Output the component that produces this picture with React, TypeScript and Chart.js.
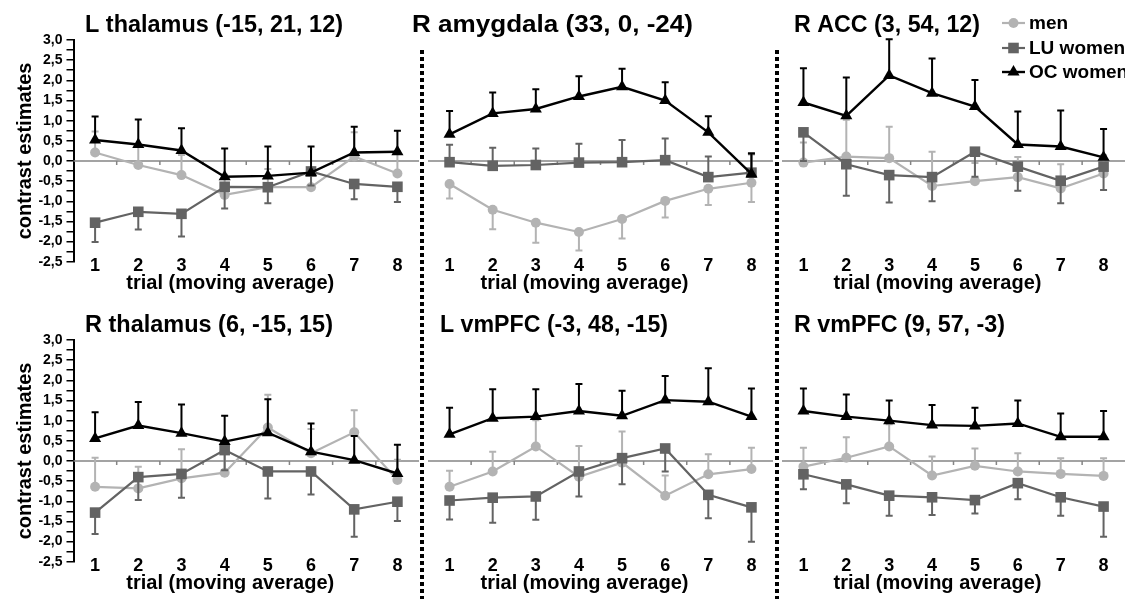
import React, { useEffect, useRef } from 'react';
import { Chart, registerables } from 'chart.js';

Chart.register(...registerables);

// ---------------- data ----------------
const trials = ['1', '2', '3', '4', '5', '6', '7', '8'];
const seriesLabels = ['men', 'LU women', 'OC women'];
const panelTitles = [
  'L thalamus (-15, 21, 12)',
  'R amygdala (33, 0, -24)',
  'R ACC (3, 54, 12)',
  'R thalamus (6, -15, 15)',
  'L vmPFC (-3, 48, -15)',
  'R vmPFC (9, 57, -3)',
];
const xAxisTitle = 'trial (moving average)';
const yAxisTitle = 'contrast estimates';
const yMin = -2.5;
const yMax = 3.0;
const yMinorStep = 0.25;
const yLabelStep = 0.5;

// signed error bars: positive = drawn upward, negative = drawn downward
// L thalamus
const lThalMen = [0.21, -0.1, -0.35, -0.84, -0.65, -0.65, 0.11, -0.31];
const lThalMenErr = [0.52, 0.45, 0.5, 0.5, 0.45, 0.45, 0.6, 0.55];
const lThalLU = [-1.53, -1.26, -1.31, -0.64, -0.65, -0.26, -0.57, -0.64];
const lThalLUErr = [-0.48, -0.44, -0.56, -0.54, -0.4, -0.35, -0.38, -0.38];
const lThalOC = [0.52, 0.41, 0.26, -0.39, -0.37, -0.29, 0.21, 0.23];
const lThalOCErr = [0.58, 0.62, 0.55, 0.7, 0.73, 0.65, 0.64, 0.52];
// R amygdala
const rAmyMen = [-0.57, -1.21, -1.53, -1.76, -1.44, -0.99, -0.69, -0.54];
const rAmyMenErr = [-0.36, -0.48, -0.5, -0.46, -0.48, -0.41, -0.4, -0.48];
const rAmyLU = [-0.03, -0.12, -0.1, -0.04, -0.03, 0.02, -0.4, -0.29];
const rAmyLUErr = [0.43, 0.45, 0.41, 0.47, 0.55, 0.54, 0.51, 0.46];
const rAmyOC = [0.66, 1.18, 1.29, 1.6, 1.84, 1.5, 0.71, -0.32];
const rAmyOCErr = [0.58, 0.52, 0.49, 0.5, 0.45, 0.45, 0.4, 0.51];
// R ACC
const rAccMen = [-0.04, 0.11, 0.07, -0.62, -0.5, -0.4, -0.68, -0.31];
const rAccMenErr = [0.5, 0.91, 0.78, 0.85, 0.45, 0.5, 0.6, 0.45];
const rAccLU = [0.71, -0.08, -0.35, -0.4, 0.23, -0.14, -0.49, -0.14];
const rAccLUErr = [-0.71, -0.78, -0.68, -0.6, -0.62, -0.6, -0.56, -0.58];
const rAccOC = [1.45, 1.12, 2.12, 1.68, 1.35, 0.41, 0.36, 0.09];
const rAccOCErr = [0.85, 0.95, 0.9, 0.86, 0.66, 0.82, 0.89, 0.7];
// R thalamus
const rThalMen = [-0.64, -0.68, -0.43, -0.29, 0.83, 0.19, 0.71, -0.47];
const rThalMenErr = [0.72, 0.54, 0.72, 0.55, 0.81, 0.6, 0.55, 0.5];
const rThalLU = [-1.28, -0.4, -0.32, 0.27, -0.26, -0.26, -1.2, -1.01];
const rThalLUErr = [-0.53, -0.57, -0.59, -0.5, -0.67, -0.57, -0.68, -0.48];
const rThalOC = [0.56, 0.88, 0.69, 0.48, 0.7, 0.23, 0.02, -0.31];
const rThalOCErr = [0.65, 0.58, 0.71, 0.64, 0.83, 0.7, 0.6, 0.71];
// L vmPFC
const lVmMen = [-0.64, -0.26, 0.36, -0.39, -0.04, -0.86, -0.33, -0.2];
const lVmMenErr = [0.4, 0.49, 0.65, 0.76, 0.77, 0.5, 0.5, 0.53];
const lVmLU = [-0.98, -0.91, -0.88, -0.26, 0.07, 0.31, -0.84, -1.15];
const lVmLUErr = [-0.47, -0.62, -0.58, -0.62, -0.65, -0.57, -0.58, -0.85];
const lVmOC = [0.66, 1.06, 1.1, 1.24, 1.12, 1.51, 1.47, 1.1];
const lVmOCErr = [0.66, 0.72, 0.68, 0.67, 0.62, 0.6, 0.83, 0.7];
// R vmPFC
const rVmMen = [-0.14, 0.08, 0.36, -0.36, -0.12, -0.26, -0.32, -0.37];
const rVmMenErr = [0.47, 0.51, 0.55, 0.47, 0.43, 0.45, 0.39, 0.44];
const rVmLU = [-0.33, -0.58, -0.86, -0.9, -0.97, -0.55, -0.9, -1.13];
const rVmLUErr = [-0.37, -0.47, -0.5, -0.44, -0.33, -0.4, -0.46, -0.75];
const rVmOC = [1.24, 1.1, 1.0, 0.89, 0.87, 0.93, 0.6, 0.6];
const rVmOCErr = [0.56, 0.55, 0.5, 0.5, 0.45, 0.57, 0.58, 0.64];

const panelSeries = [
  { men: lThalMen, menErr: lThalMenErr, lu: lThalLU, luErr: lThalLUErr, oc: lThalOC, ocErr: lThalOCErr },
  { men: rAmyMen, menErr: rAmyMenErr, lu: rAmyLU, luErr: rAmyLUErr, oc: rAmyOC, ocErr: rAmyOCErr },
  { men: rAccMen, menErr: rAccMenErr, lu: rAccLU, luErr: rAccLUErr, oc: rAccOC, ocErr: rAccOCErr },
  { men: rThalMen, menErr: rThalMenErr, lu: rThalLU, luErr: rThalLUErr, oc: rThalOC, ocErr: rThalOCErr },
  { men: lVmMen, menErr: lVmMenErr, lu: lVmLU, luErr: lVmLUErr, oc: lVmOC, ocErr: lVmOCErr },
  { men: rVmMen, menErr: rVmMenErr, lu: rVmLU, luErr: rVmLUErr, oc: rVmOC, ocErr: rVmOCErr },
];

// ---------------- styles / layout ----------------
const FONT = '"Liberation Sans", Arial, Helvetica, sans-serif';
const STYLES = [
  { color: '#b3b3b3', style: 'circle', radius: 5, width: 2.2 },
  { color: '#636363', style: 'rect', radius: 7.5, width: 2.2 },
  { color: '#000000', style: 'triangle', radius: 7, width: 2.4 },
];
const ORDERS = [2, 1, 0];
const colLayout = [
  { left: 0, width: 419, padLeft: 0, yAxis: true },
  { left: 400, width: 373, padLeft: 28, yAxis: false },
  { left: 770, width: 355, padLeft: 12, yAxis: false },
];
const rowLayout = [
  { top: 0, height: 300 },
  { top: 300, height: 299 },
];
const titleLeft = [85, 412, 794, 85, 440, 794];
const titleWidth = [258, 281, 186, 248, 228, 211];
const LEGEND_X = 1002;
const PLOT_TOP = 40;
const PLOT_BOTTOM = 261.8;
const Y_AXIS_WIDTH = 73.5;

Chart.defaults.font.family = FONT;

function drawMarker(ctx: CanvasRenderingContext2D, style: string, x: number, y: number, r: number, color: string) {
  ctx.save();
  ctx.fillStyle = color;
  ctx.beginPath();
  if (style === 'circle') {
    ctx.arc(x, y, r, 0, Math.PI * 2);
  } else if (style === 'rect') {
    const s = r * Math.SQRT1_2;
    ctx.rect(x - s, y - s, 2 * s, 2 * s);
  } else {
    ctx.moveTo(x, y - r);
    ctx.lineTo(x + r * 0.866, y + r * 0.5);
    ctx.lineTo(x - r * 0.866, y + r * 0.5);
    ctx.closePath();
  }
  ctx.fill();
  ctx.restore();
}

const decorPlugin = {
  id: 'decor',
  beforeDatasetsDraw(chart: any) {
    const { ctx, chartArea } = chart;
    const y0 = chart.scales.y.getPixelForValue(0);
    ctx.save();
    ctx.strokeStyle = '#858585';
    ctx.lineWidth = 1.5;
    ctx.beginPath();
    ctx.moveTo(chartArea.left, y0);
    ctx.lineTo(chartArea.right, y0);
    const n = chart.data.labels.length;
    const w = (chartArea.right - chartArea.left) / n;
    for (let k = 1; k < n; k++) {
      const x = chartArea.left + k * w;
      ctx.moveTo(x, y0);
      ctx.lineTo(x, y0 + 4);
    }
    ctx.stroke();
    ctx.restore();
  },
  beforeDatasetDraw(chart: any, args: any) {
    const ds = chart.data.datasets[args.index];
    const errs: number[] = ds.errorBars;
    if (!errs) return;
    const { ctx } = chart;
    const ys = chart.scales.y;
    ctx.save();
    ctx.strokeStyle = ds.borderColor;
    ctx.lineWidth = 2;
    ctx.beginPath();
    args.meta.data.forEach((pt: any, j: number) => {
      const v = ds.data[j];
      const yA = ys.getPixelForValue(v);
      const yB = ys.getPixelForValue(v + errs[j]);
      ctx.moveTo(pt.x, yA);
      ctx.lineTo(pt.x, yB);
      ctx.moveTo(pt.x - 3.5, yB);
      ctx.lineTo(pt.x + 3.5, yB);
    });
    ctx.stroke();
    ctx.restore();
  },
  afterDraw(chart: any, _args: any, opts: any) {
    const { ctx, chartArea } = chart;
    ctx.save();
    ctx.fillStyle = '#000';
    ctx.textAlign = 'left';
    ctx.textBaseline = 'alphabetic';
    ctx.font = `bold 24px ${FONT}`;
    const m = ctx.measureText(opts.title).width;
    ctx.save();
    ctx.translate(opts.titleX, 31.5);
    ctx.scale(opts.titleWidth / m, 1);
    ctx.fillText(opts.title, 0, 0);
    ctx.restore();
    ctx.textAlign = 'center';
    ctx.textBaseline = 'middle';
    ctx.font = `bold 20px ${FONT}`;
    ctx.fillText(opts.xTitle, (chartArea.left + chartArea.right) / 2 - 16, 283);
    if (opts.legend) {
      const lx0 = opts.legendX;
      const rows = [23, 48, 72];
      ctx.textAlign = 'left';
      ctx.font = `bold 19px ${FONT}`;
      chart.data.datasets.forEach((ds: any, i: number) => {
        const st = STYLES[i];
        const y = rows[i];
        ctx.strokeStyle = st.color;
        ctx.lineWidth = st.width;
        ctx.beginPath();
        ctx.moveTo(lx0, y);
        ctx.lineTo(lx0 + 23, y);
        ctx.stroke();
        drawMarker(ctx, st.style, lx0 + 11.5, y, st.radius, st.color);
        ctx.fillStyle = '#000';
        ctx.fillText(ds.label, lx0 + 27, y + 1);
      });
    }
    ctx.restore();
  },
};

function fmtTick(v: any) {
  const n = Number(v);
  const r = Math.round(n / yLabelStep);
  if (Math.abs(n - r * yLabelStep) > 1e-6) return '';
  return (r * yLabelStep).toFixed(1).replace('.', ',');
}

function Panel({ idx }: { idx: number }) {
  const ref = useRef<HTMLCanvasElement>(null);
  const col = colLayout[idx % 3];
  const row = rowLayout[Math.floor(idx / 3)];
  useEffect(() => {
    const s = panelSeries[idx];
    const vals = [s.men, s.lu, s.oc];
    const errs = [s.menErr, s.luErr, s.ocErr];
    const datasets = vals.map((v, i) => ({
      label: seriesLabels[i],
      data: v,
      errorBars: errs[i],
      borderColor: STYLES[i].color,
      backgroundColor: STYLES[i].color,
      borderWidth: STYLES[i].width,
      pointStyle: STYLES[i].style,
      pointRadius: STYLES[i].radius,
      pointBorderWidth: 0,
      pointBackgroundColor: STYLES[i].color,
      tension: 0,
      order: ORDERS[i],
      clip: false,
    }));
    const chart = new Chart(ref.current as HTMLCanvasElement, {
      type: 'line',
      data: { labels: trials, datasets: datasets as any },
      options: {
        animation: false,
        responsive: true,
        maintainAspectRatio: false,
        layout: { autoPadding: false, padding: { top: PLOT_TOP, left: col.padLeft, right: 0, bottom: 0 } },
        plugins: {
          legend: { display: false },
          tooltip: { enabled: false },
          decor: {
            title: panelTitles[idx],
            titleX: titleLeft[idx] - col.left,
            titleWidth: titleWidth[idx],
            xTitle: xAxisTitle,
            legend: idx === 2,
            legendX: LEGEND_X - col.left,
          },
        } as any,
        scales: {
          x: {
            type: 'category',
            offset: true,
            grid: { display: false, drawTicks: false },
            border: { display: false },
            ticks: {
              font: { family: FONT, size: 18, weight: 'bold' },
              color: '#000',
              padding: -7,
              maxRotation: 0,
              autoSkip: false,
            },
            afterFit: (sc: any) => {
              sc.height = sc.chart.height - PLOT_BOTTOM;
              sc.paddingLeft = 0;
              sc.paddingRight = 0;
              sc._computeLabelArea = () => undefined;
            },
          },
          y: {
            display: col.yAxis,
            min: yMin,
            max: yMax,
            ticks: {
              stepSize: yMinorStep,
              maxTicksLimit: 40,
              autoSkip: false,
              callback: fmtTick,
              font: { family: FONT, size: 14, weight: 'bold' },
              color: '#000',
              padding: 4,
            },
            grid: { drawOnChartArea: false, drawTicks: true, tickLength: 7, color: '#000', lineWidth: 1.5 },
            border: { display: true, color: '#000', width: 2 },
            title: {
              display: true,
              text: yAxisTitle,
              color: '#000',
              font: { family: FONT, size: 20, weight: 'bold' },
              padding: { top: 13, bottom: 0 },
            },
            afterFit: (sc: any) => {
              if (col.yAxis) sc.width = Y_AXIS_WIDTH;
              else sc.width = 0;
              sc.paddingTop = 0;
              sc.paddingBottom = 0;
            },
          },
        } as any,
      },
      plugins: [decorPlugin as any],
    });
    return () => chart.destroy();
  }, [idx]);
  return (
    <div style={{ position: 'absolute', left: col.left, top: row.top, width: col.width, height: row.height }}>
      <canvas ref={ref} />
    </div>
  );
}

const dotted = {
  position: 'absolute' as const,
  top: 50,
  width: 4,
  height: 549,
  background: 'repeating-linear-gradient(to bottom, #000 0px, #000 4px, transparent 4px, transparent 7px)',
};

export default function App() {
  return (
    <div style={{ position: 'absolute', left: 0, top: 0, width: 1125, height: 599, background: '#fff', overflow: 'hidden' }}>
      <div style={{ ...dotted, left: 420 }} />
      <div style={{ ...dotted, left: 774.5 }} />
      {[0, 1, 2, 3, 4, 5].map((i) => (
        <Panel key={i} idx={i} />
      ))}
    </div>
  );
}
